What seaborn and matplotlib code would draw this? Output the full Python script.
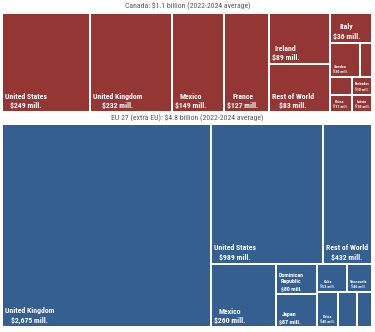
import matplotlib
matplotlib.use("Agg")
import matplotlib.pyplot as plt
import seaborn as sns
import numpy as np
import pandas as pd
from matplotlib import font_manager as fm

# ---------------- data ----------------
canada_title = "Canada: $1.1 billion (2022-2024 average)"
canada_countries = ["United States", "United Kingdom", "Mexico", "France", "Ireland",
                    "Rest of World", "Italy", "Sweden", "", "", "Barbados", "China", "Latvia"]
canada_values = [249, 232, 149, 127, 89, 83, 36, 30, 12, 11, 10, 11, 10]

eu_title = "EU 27 (extra EU): $4.8 billion (2022-2024 average)"
eu_countries = ["United Kingdom", "United States", "Rest of World", "Mexico",
                "Dominican Republic", "Japan", "Cuba", "Venezuela", "China", "", ""]
eu_values = [2675, 989, 432, 260, 80, 87, 53, 46, 45, 43, 32]

# nesting of the treemap tiles (indices into the lists above);
# "h" = side by side, "v" = stacked top to bottom, sized by the sum of values
canada_tree = ("h", [0, 1, 2, 3, ("v", [4, 5]),
                     ("v", [6, ("h", [7, 8]), ("h", [9, 10]), ("h", [11, 12])])])
eu_tree = ("h", [0, ("v", [("h", [1, 2]),
                           ("h", [3, ("v", [4, 5]), ("v", [("h", [6, 7]), ("h", [8, 9, 10])])])])])

CANADA_COLOR = "#943634"
EU_COLOR = "#365F91"

# ---------------- style ----------------
sns.set_theme(style="white")
installed = {f.name for f in fm.fontManager.ttflist}
font = next((f for f in ["Liberation Sans Narrow", "Roboto Condensed", "Open Sans Condensed",
                         "DejaVu Sans"] if f in installed), "DejaVu Sans")
plt.rcParams["font.family"] = [font, "DejaVu Sans"]

W, H, DPI = 375, 332, 100
fig = plt.figure(figsize=(W / DPI, H / DPI), dpi=DPI)
fig.patch.set_facecolor("white")


def tree_sum(node, vals):
    if isinstance(node, int):
        return vals[node]
    return sum(tree_sum(c, vals) for c in node[1])


def layout(node, vals, x, y, w, h, out):
    if isinstance(node, int):
        out[node] = (x, y, w, h)
        return
    d, kids = node
    tot = tree_sum(node, vals)
    if d == "h":
        cx = x
        for k in kids:
            kw = w * tree_sum(k, vals) / tot
            layout(k, vals, cx, y, kw, h, out)
            cx += kw
    else:
        cy = y + h
        for k in kids:
            kh = h * tree_sum(k, vals) / tot
            cy -= kh
            layout(k, vals, x, cy, w, kh, out)


renderer = fig.canvas.get_renderer()


def text_w(s, fs):
    t = fig.text(0, 0, s, fontsize=fs, fontweight="bold")
    bb = t.get_window_extent(renderer)
    t.remove()
    return bb.width


def wrap(words, fs, avail):
    lines, cur = [], ""
    for wd in words:
        cand = (cur + " " + wd).strip()
        if cur and text_w(cand, fs) > avail:
            lines.append(cur)
            cur = wd
        else:
            cur = cand
    lines.append(cur)
    return lines


def draw_panel(ax, names, vals, tree, color):
    rects = {}
    layout(tree, vals, 0, 0, 1, 1, rects)
    df = pd.DataFrame({
        "name": names, "value": vals,
        "x": [rects[i][0] for i in range(len(vals))],
        "y": [rects[i][1] for i in range(len(vals))],
        "w": [rects[i][2] for i in range(len(vals))],
        "h": [rects[i][3] for i in range(len(vals))],
    })
    ax.bar(df["x"], df["h"], width=df["w"], bottom=df["y"], align="edge",
           color=color, edgecolor="white", linewidth=1.44)
    ax.set_xlim(0, 1)
    ax.set_ylim(0, 1)
    ax.axis("off")

    bb = ax.get_window_extent(renderer)
    pw, ph = bb.width, bb.height
    total = sum(vals)
    LS = 1.4
    for _, r in df.iterrows():
        if not r["name"]:
            continue
        wpx, hpx = r["w"] * pw, r["h"] * ph
        fs0 = max(2.4, 5.6 * min(1.0, np.sqrt(r["value"] / total / 0.03)))
        if wpx < 34:
            fs0 = min(fs0, 3.0)
        name_words = r["name"].split()
        val_words = f"${r['value']:,} mill.".split()
        fs = fs0
        lines = None
        while True:
            avail = wpx - 5
            lines = wrap(name_words, fs, avail) + wrap(val_words, fs, avail)
            bw = max(text_w(l, fs) for l in lines)
            bh = len(lines) * fs * LS * DPI / 72
            if (bw <= avail and bh <= hpx - 4) or fs <= 2.4:
                break
            fs -= 0.2
        ax.annotate("\n".join(lines), xy=(r["x"], r["y"]), xycoords="data",
                    xytext=(3, 3), textcoords="offset pixels",
                    ha="left", va="bottom", multialignment="center",
                    color="white", fontweight="bold", fontsize=fs, linespacing=LS)


def axes_box(x0, y0, x1, y1):
    return [x0 / W, 1 - y1 / H, (x1 - x0) / W, (y1 - y0) / H]


ax_top = fig.add_axes(axes_box(2, 13, 372, 112))
ax_bot = fig.add_axes(axes_box(2, 124, 372, 327))

draw_panel(ax_top, canada_countries, canada_values, canada_tree, CANADA_COLOR)
draw_panel(ax_bot, eu_countries, eu_values, eu_tree, EU_COLOR)

fig.text(0.5, 1 - 6.5 / H, canada_title, ha="center", va="center", fontsize=5.6, color="#595959")
fig.text(0.5, 1 - 118.5 / H, eu_title, ha="center", va="center", fontsize=5.6, color="#595959")

fig.savefig("out.png", dpi=DPI, facecolor="white")
